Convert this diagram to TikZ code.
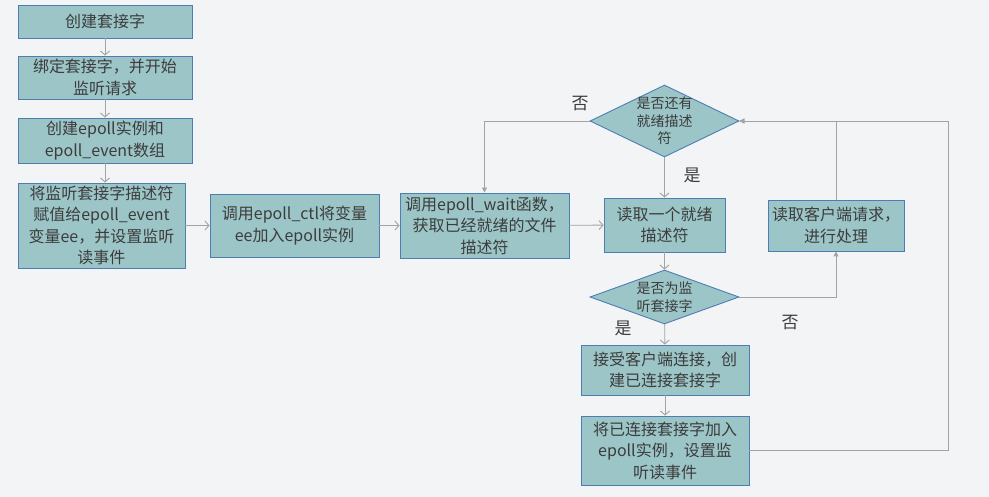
\documentclass[tikz,border=0pt]{standalone}
\usepackage{fontspec}
\setmainfont{Noto Sans CJK SC}
\usetikzlibrary{arrows.meta,shapes.geometric}
\definecolor{bg}{HTML}{F3F4F6}
\definecolor{boxfill}{HTML}{9CC5C7}
\definecolor{boxdraw}{HTML}{4E7DB3}
\definecolor{edge}{HTML}{A3A3A3}
\definecolor{txt}{HTML}{3C3C3C}
\begin{document}
\begin{tikzpicture}[x=1pt,y=-1pt,
 box/.style={draw=boxdraw, fill=boxfill, line width=0.9pt, inner sep=0pt, text=txt, align=center, font=\fontsize{16}{21.5}\selectfont},
 dia/.style={diamond, draw=boxdraw, fill=boxfill, line width=0.9pt, inner sep=0pt},
 diatext/.style={text=txt, align=center, font=\fontsize{14}{17.5}\selectfont, inner sep=0pt},
 conn/.style={draw=edge, line width=0.9pt, -{Straight Barb[length=4pt,width=9pt]}},
 connf/.style={draw=edge, line width=0.9pt, -{Triangle[length=5pt,width=5pt]}},
 lbl/.style={text=txt, font=\fontsize{17}{17}\selectfont, inner sep=0pt}]
\fill[bg] (0,0) rectangle (989,497);
\useasboundingbox (0,0) rectangle (989,497);

\node[box, minimum width=174, minimum height=33] (n1) at (105,21.5) {创建套接字};
\node[box, minimum width=174, minimum height=43] (n2) at (105,77.5) {绑定套接字，并开始\\监听请求};
\node[box, minimum width=174, minimum height=45] (n3) at (105,140.5) {创建epoll实例和\\epoll\_event数组};
\node[box, minimum width=167, minimum height=85] (n4) at (101.5,225.5) {将监听套接字描述符\\赋值给epoll\_event\\变量ee，并设置监听\\读事件};
\node[box, minimum width=169, minimum height=63] (n5) at (294.5,225.5) {调用epoll\_ctl将变量\\ee加入epoll实例};
\node[box, minimum width=169, minimum height=65] (n6) at (484.5,225.5) {调用epoll\_wait函数，\\获取已经就绪的文件\\描述符};
\node[dia, minimum width=149, minimum height=72] (d1) at (664.5,121) {};
\node[diatext] (d1t) at (664.5,121) {是否还有\\就绪描述\\符};
\node[box, minimum width=121, minimum height=54] (n8) at (664.5,225) {读取一个就绪\\描述符};
\node[box, minimum width=136, minimum height=51] (n9) at (836,225.5) {读取客户端请求，\\进行处理};
\node[dia, minimum width=149, minimum height=54] (d2) at (664.5,297) {};
\node[diatext] (d2t) at (664.5,297) {是否为监\\听套接字};
\node[box, minimum width=168, minimum height=50] (n11) at (665,370) {接受客户端连接，创\\建已连接套接字};
\node[box, minimum width=168, minimum height=69] (n12) at (665,450.5) {将已连接套接字加入\\epoll实例，设置监\\听读事件};

\node[lbl] (l1) at (580,104) {否};
\node[lbl] (l2) at (692,175) {是};
\node[lbl] (l3) at (790,323) {否};
\node[lbl] (l4) at (623,328) {是};

\coordinate (c1) at (948,121);

\draw[conn] (n1) -- (n2);
\draw[conn] (n2) -- (n3);
\draw[conn] (n3) -- (n3 |- n4.north);
\draw[conn] (n4) -- (n5);
\draw[conn] (n5) -- (n6);
\draw[conn] (n6) -- (n8);
\draw[conn] (d1) -- (n8);
\draw[connf] (d1.west) -| (n6.north);
\draw[conn] (n8) -- (d2);
\draw[connf] (d2.east) -| (n9.south);
\draw[conn] (d2) -- (n11);
\draw[conn] (n11) -- (n12);
\draw[connf] (n9.north) |- (d1.east);
\draw[connf] (n12.east) -| (c1) -- (d1.east);
\end{tikzpicture}
\end{document}
